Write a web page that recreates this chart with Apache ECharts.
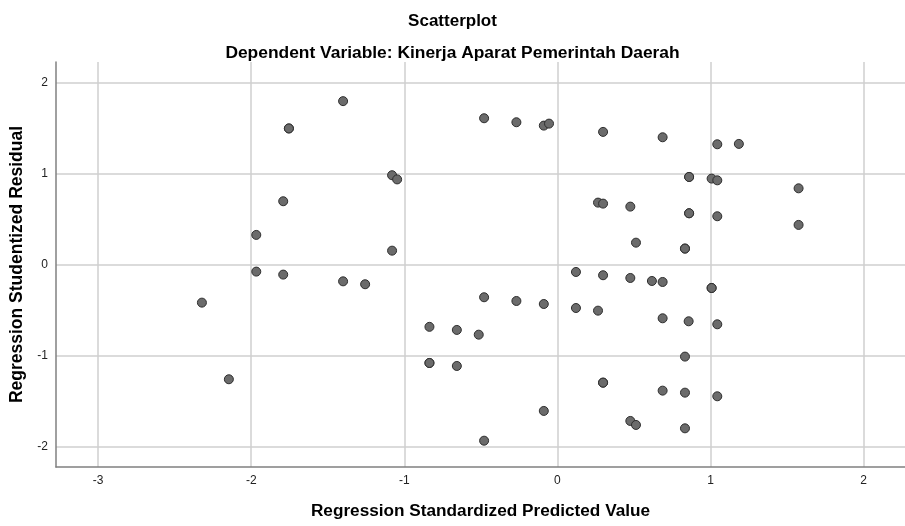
<!DOCTYPE html>
<html>
<head>
<meta charset="utf-8">
<script src="https://cdn.jsdelivr.net/npm/echarts@6/dist/echarts.min.js"></script>
<style>
html,body{margin:0;padding:0;background:#fff;}
#chart{width:905px;height:526px;}
</style>
</head>
<body>
<div id="chart"></div>
<script>
// Regression Standardized Predicted Value
var predicted = [
  -2.322, -2.146, -1.967, -1.967, -1.791, -1.791, -1.754, -1.754, -1.400, -1.400,
  -1.256, -1.080, -1.047, -1.080, -0.836, -0.836, -0.836, -0.657, -0.657, -0.514,
  -0.479, -0.479, -0.479, -0.268, -0.268, -0.089, -0.055, -0.089, -0.089,
  0.121, 0.121, 0.265, 0.298, 0.298, 0.298, 0.265, 0.298, 0.298,
  0.476, 0.476, 0.476, 0.513, 0.513, 0.617, 0.687, 0.687, 0.687, 0.687,
  0.833, 0.833, 0.833, 0.833, 0.833, 0.860, 0.860, 0.860, 0.860, 0.857,
  1.007, 1.007, 1.007, 1.044, 1.044, 1.044, 1.044, 1.044, 1.185, 1.575, 1.575
];
// Regression Studentized Residual
var residual = [
  -0.414, -1.256, 0.330, -0.073, 0.700, -0.106, 1.500, 1.500, 1.800, -0.180,
  -0.212, 0.986, 0.940, 0.157, -0.680, -1.077, -1.077, -0.714, -1.110, -0.766,
  1.612, -0.355, -1.931, 1.568, -0.396, 1.531, 1.553, -0.429, -1.604,
  -0.077, -0.473, 0.685, 0.674, 1.462, -0.113, -0.502, -1.293, -1.293,
  0.641, -0.143, -1.714, 0.245, -1.758, -0.176, -0.187, 1.403, -0.586, -1.381,
  0.180, 0.180, -1.007, -1.403, -1.795, 0.967, 0.967, 0.568, 0.568, -0.619,
  0.949, -0.253, -0.253, 1.326, 0.930, 0.535, -0.652, -1.443, 1.330, 0.842, 0.440
];

var titleText = 'Scatterplot';
var subtitleText = 'Dependent Variable: Kinerja Aparat Pemerintah Daerah';
var xName = 'Regression Standardized Predicted Value';
var yName = 'Regression Studentized Residual';

var points = predicted.map(function (v, i) { return [v, residual[i]]; });

var chart = echarts.init(document.getElementById('chart'), null, {renderer: 'canvas'});
var font = 'Arial, "Liberation Sans", sans-serif';
chart.setOption({
  backgroundColor: '#ffffff',
  animation: false,
  title: [
    {text: titleText, left: 'center', top: 8,
     textStyle: {fontFamily: font, fontSize: 17, fontWeight: 'bold', color: '#000'}},
    {text: subtitleText, left: 'center', top: 40,
     textStyle: {fontFamily: font, fontSize: 17.4, fontWeight: 'bold', color: '#000'}}
  ],
  grid: {left: 55.5, right: 0, top: 62, bottom: 59, containLabel: false},
  xAxis: {
    type: 'value',
    min: -3.275, max: 2.27,
    name: xName, nameLocation: 'middle', nameGap: 36,
    nameTextStyle: {fontFamily: font, fontSize: 17.2, fontWeight: 'bold', color: '#000'},
    axisLine: {show: true, onZero: false, lineStyle: {color: '#808080', width: 1.5}},
    axisTick: {show: false},
    axisLabel: {showMinLabel: false, showMaxLabel: false, margin: 8,
                fontFamily: font, fontSize: 12, color: '#222'},
    splitLine: {show: true, showMinLine: false, showMaxLine: false,
                lineStyle: {color: '#cfcfcf', width: 1.5}}
  },
  yAxis: {
    type: 'value',
    min: -2.22, max: 2.23,
    name: yName, nameLocation: 'middle', nameGap: 30, nameRotate: 90,
    nameTextStyle: {fontFamily: font, fontSize: 17.5, fontWeight: 'bold', color: '#000'},
    axisLine: {show: true, onZero: false, lineStyle: {color: '#808080', width: 1.5}},
    axisTick: {show: false},
    axisLabel: {showMinLabel: false, showMaxLabel: false, margin: 8,
                fontFamily: font, fontSize: 12, color: '#222'},
    splitLine: {show: true, showMinLine: false, showMaxLine: false,
                lineStyle: {color: '#cfcfcf', width: 1.5}}
  },
  series: [{
    type: 'scatter',
    data: points,
    symbol: 'circle',
    symbolSize: 9,
    itemStyle: {color: '#6b6b6b', borderColor: '#2e2e2e', borderWidth: 1, opacity: 1}
  }]
});
</script>
</body>
</html>
